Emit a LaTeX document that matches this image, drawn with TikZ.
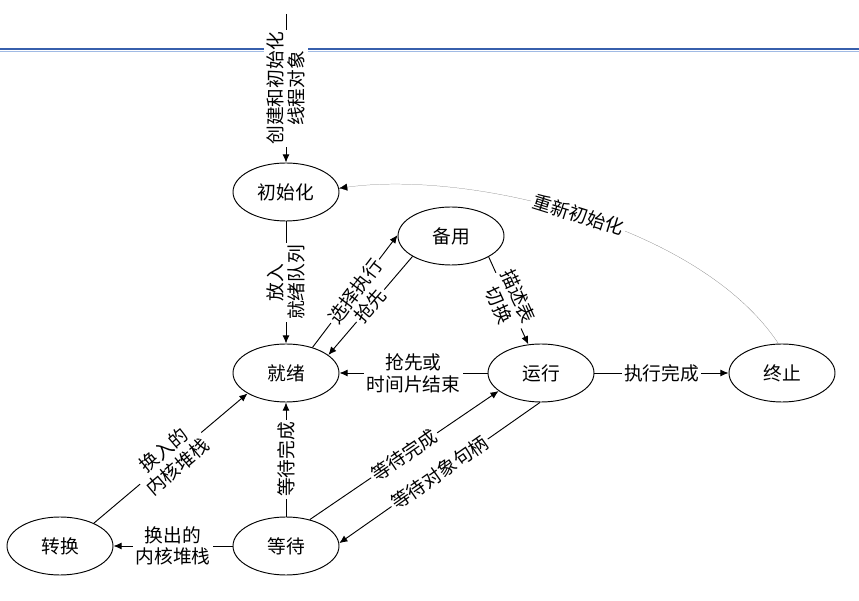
\documentclass[tikz,border=0pt]{standalone}
\usepackage{fontspec}
\newfontfamily\cjk{Noto Sans CJK SC}
\usetikzlibrary{shapes.geometric, arrows.meta}

\definecolor{rulecol}{RGB}{55,95,172}
\definecolor{rulelight}{RGB}{160,186,228}
\newcommand{\diafont}{\cjk\fontsize{16pt}{18.5pt}\selectfont}

\tikzset{
  state/.style={ellipse, draw, minimum width=3.18cm, minimum height=1.74cm, inner sep=0pt, font=\diafont},  % state ellipse
  lbl/.style={fill=white, inner sep=2pt, align=center, font=\diafont}  % label sitting on a connector
}

\begin{document}
\begin{tikzpicture}[x=0.03cm, y=-0.03cm, line width=0.8pt, >={Latex[length=7pt,width=6pt]}]  % image-like coordinates
    \useasboundingbox (0,0) rectangle (859,601);  % page size
    % Header rule
    \draw [rulecol, line width=1.7pt] (0,49.5) -- (859,49.5);  % dark blue rule
    \draw [rulelight, line width=1pt] (0,51.8) -- (859,51.8);  % light blue rule under it

    % Nodes
    \node (init) [state] at (286,192) {初始化};  % initialized
    \node (standby) [state] at (451,236) {备用};  % standby
    \node (ready) [state] at (286,373) {就绪};  % ready
    \node (running) [state] at (541,373) {运行};  % running
    \node (terminated) [state] at (782,373) {终止};  % terminated
    \node (transition) [state] at (60,546) {转换};  % transition
    \node (waiting) [state] at (286,546) {等待};  % waiting
    \coordinate (create) at (286,14);  % free end of the creation arrow

    % Arrows
    \draw [->] (create) -- node[lbl, rotate=90] {创建和初始化\\线程对象} (init);  % creation
    \draw [->] (init) -- node[lbl, rotate=90] {放入\\就绪队列} (ready);  % init to ready
    \draw [->] (ready.44) -- node[lbl, sloped] {选择执行} (standby.179);  % ready to standby
    \draw [->] (standby.208) -- node[lbl, sloped] {抢先} (ready.23);  % standby to ready
    \draw [->] (standby.331) -- node[lbl, sloped] {描述表\\切换} (running.114);  % standby to running
    \draw [->] (running) -- node[lbl] {抢先或\\时间片结束} (ready);  % running to ready
    \draw [->] (running) -- node[lbl] {执行完成} (terminated);  % running to terminated
    \draw [-{Latex[length=7pt,width=6pt,black]}, draw=gray, very thin] (terminated.97) .. controls (700,225) and (470,170) .. node[lbl, sloped] {重新初始化} (init.4);  % terminated back to init
    \draw [->] (transition.34) -- node[lbl, sloped] {换入的\\内核堆栈} (ready.208);  % transition to ready
    \draw [->] (waiting) -- node[lbl, rotate=90] {等待完成} (ready);  % waiting to ready
    \draw [->] (waiting) -- node[lbl] {换出的\\内核堆栈} (transition);  % waiting to transition
    \draw [->] (waiting.48) -- node[lbl, sloped] {等待完成} (running.203);  % waiting to running
    \draw [->] (running.268) -- node[lbl, sloped] {等待对象句柄} (waiting.3);  % running to waiting
\end{tikzpicture}
\end{document}
